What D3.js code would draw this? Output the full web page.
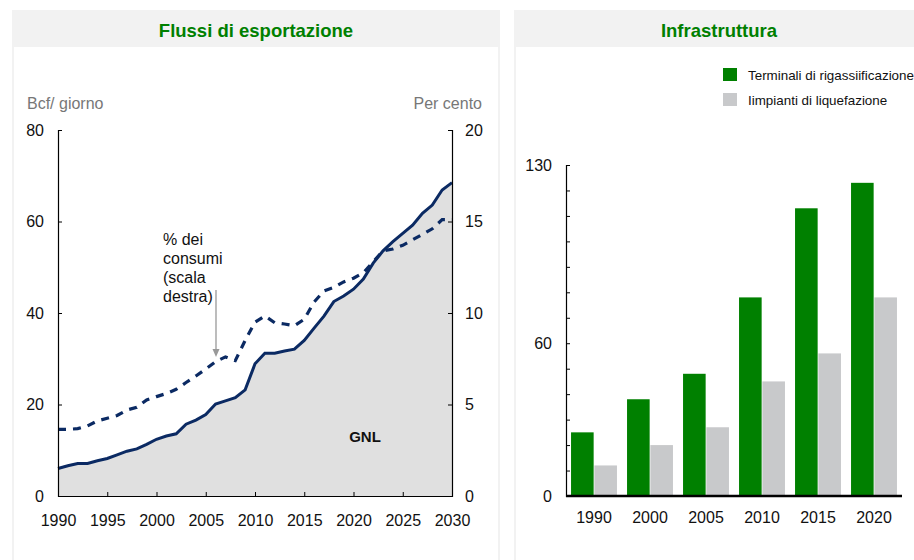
<!DOCTYPE html>
<html><head><meta charset="utf-8">
<script src="https://cdn.jsdelivr.net/npm/d3@7"></script>
<style>
html,body{margin:0;padding:0;background:#fff;}
svg{display:block;font-family:"Liberation Sans",Arial,Helvetica,sans-serif;}
</style></head>
<body>
<svg id="chart" width="914" height="560"></svg>
<script>
// ---- Data ----
const years = d3.range(1990, 2031);
const lngExports = [6.0,6.6,7.1,7.1,7.7,8.2,9.0,9.8,10.3,11.3,12.4,13.1,13.6,15.7,16.6,17.8,20.1,20.8,21.5,23.2,28.9,31.2,31.2,31.7,32.1,34.0,36.7,39.3,42.5,43.7,45.2,47.4,50.9,53.6,55.6,57.4,59.2,61.8,63.6,66.9,68.5];
const shareConsumption = [3.64,3.64,3.68,3.83,4.1,4.25,4.4,4.7,4.85,5.25,5.43,5.6,5.83,6.2,6.56,6.94,7.34,7.6,7.4,8.5,9.5,9.84,9.47,9.4,9.3,9.66,10.6,11.2,11.4,11.7,11.9,12.2,12.8,13.4,13.5,13.7,14.0,14.3,14.6,15.1,15.1];
const leftTicks = [0,20,40,60,80];
const rightTicks = [0,5,10,15,20];
const xTicks = [1990,1995,2000,2005,2010,2015,2020,2025,2030];

const barCategories = ["1990","2000","2005","2010","2015","2020"];
const regasTerminals = [25,38,48,78,113,123];
const liquefactionPlants = [12,20,27,45,56,78];
const barTickValues = d3.range(0, 131, 10);
const barTickLabels = [0,60,130];
const seriesNames = ["Terminali di rigassiificazione","Iimpianti di liquefazione"];

const navy = "#0b2a63";
const green = "#008000";
const lightGray = "#c8c9cb";

const svg = d3.select("#chart");

// ---- Panels ----
function panel(x, w, title) {
  svg.append("rect").attr("x", x).attr("y", 10).attr("width", w).attr("height", 560).attr("fill", "#f2f2f2");
  svg.append("rect").attr("x", x + 2).attr("y", 47).attr("width", w - 4).attr("height", 520).attr("fill", "#fff");
  svg.append("text").attr("x", x + w / 2).attr("y", 37).attr("text-anchor", "middle")
    .attr("font-size", 18.5).attr("font-weight", "bold").attr("fill", green).text(title);
}
panel(12, 488, "Flussi di esportazione");
panel(514, 410, "Infrastruttura");

// ---- Left chart ----
const x = d3.scaleLinear().domain([1990, 2030]).range([58, 452]);
const yL = d3.scaleLinear().domain([0, 80]).range([496, 130]);
const yR = d3.scaleLinear().domain([0, 20]).range([496, 130]);

const g = svg.append("g");
const exportData = years.map((yr, i) => ({ yr, v: lngExports[i] }));
const shareData = years.map((yr, i) => ({ yr, v: shareConsumption[i] }));

g.append("path").datum(exportData)
  .attr("fill", "#e0e0e0")
  .attr("d", d3.area().x(d => x(d.yr)).y0(yL(0)).y1(d => yL(d.v)));

g.append("path").datum(exportData)
  .attr("fill", "none").attr("stroke", navy).attr("stroke-width", 3)
  .attr("d", d3.line().x(d => x(d.yr)).y(d => yL(d.v)));

g.append("path").datum(shareData)
  .attr("fill", "none").attr("stroke", navy).attr("stroke-width", 3.2)
  .attr("stroke-dasharray", "8,7")
  .attr("d", d3.line().x(d => x(d.yr)).y(d => yR(d.v)));

function styleAxis(sel, size) {
  sel.selectAll("path.domain").attr("stroke", "#000").attr("stroke-width", 1.2);
  sel.selectAll(".tick line").attr("stroke", "#000");
  sel.selectAll("text").attr("font-size", size).attr("fill", "#111")
    .attr("font-family", '"Liberation Sans",Arial,sans-serif');
}

const axL = g.append("g").attr("transform", "translate(58,0)")
  .call(d3.axisLeft(yL).tickValues(leftTicks).tickSize(-4).tickSizeOuter(-4).tickPadding(14));
styleAxis(axL, 16);
const axR = g.append("g").attr("transform", "translate(452,0)")
  .call(d3.axisRight(yR).tickValues(rightTicks).tickSize(-4).tickSizeOuter(-4).tickPadding(13));
styleAxis(axR, 16);
const axB = g.append("g").attr("transform", "translate(0,496)")
  .call(d3.axisBottom(x).tickValues(xTicks).tickFormat(d3.format("d")).tickSize(-4).tickSizeOuter(0).tickPadding(19));
styleAxis(axB, 16);

g.append("text").attr("x", 27).attr("y", 109).attr("font-size", 16).attr("fill", "#777").text("Bcf/ giorno");
g.append("text").attr("x", 482).attr("y", 109).attr("text-anchor", "end").attr("font-size", 16).attr("fill", "#777").text("Per cento");

const ann = g.append("text").attr("x", 163).attr("y", 245).attr("font-size", 16).attr("fill", "#111");
["% dei", "consumi", "(scala", "destra)"].forEach((t, i) => {
  ann.append("tspan").attr("x", 163).attr("dy", i === 0 ? 0 : 19).text(t);
});
g.append("line").attr("x1", 216).attr("x2", 216).attr("y1", 290).attr("y2", 350)
  .attr("stroke", "#999").attr("stroke-width", 1.3);
g.append("path").attr("d", "M212.5,349 L219.5,349 L216,357 Z").attr("fill", "#999");

g.append("text").attr("x", 365).attr("y", 442).attr("text-anchor", "middle")
  .attr("font-size", 15).attr("font-weight", "bold").attr("fill", "#111").text("GNL");

// ---- Right chart ----
const x0 = d3.scaleBand().domain(barCategories).range([566, 902]).paddingInner(0.18).paddingOuter(0.09);
const x1 = d3.scaleBand().domain([0, 1]).range([0, x0.bandwidth()]).paddingInner(0.03);
const yB = d3.scaleLinear().domain([0, 130]).range([496, 165]);

const gb = svg.append("g");
const bars = barCategories.map((c, i) => [
  { c, s: 0, v: regasTerminals[i] },
  { c, s: 1, v: liquefactionPlants[i] }
]).flat();
gb.selectAll("rect.bar").data(bars).enter().append("rect")
  .attr("class", "bar")
  .attr("x", d => x0(d.c) + x1(d.s))
  .attr("width", x1.bandwidth())
  .attr("y", d => yB(d.v))
  .attr("height", d => yB(0) - yB(d.v))
  .attr("fill", d => d.s === 0 ? green : lightGray);

const axBL = gb.append("g").attr("transform", "translate(566,0)")
  .call(d3.axisLeft(yB).tickValues(barTickValues)
    .tickFormat(d => barTickLabels.includes(d) ? d : "")
    .tickSize(-4).tickSizeOuter(-4).tickPadding(14));
styleAxis(axBL, 16);
axBL.select("path.domain").attr("stroke-width", 1.2);

const axBB = gb.append("g").attr("transform", "translate(0,496)")
  .call(d3.axisBottom(x0).tickSize(0).tickPadding(16));
styleAxis(axBB, 16);
axBB.select("path.domain").remove();
gb.append("line").attr("x1", 566).attr("x2", 902).attr("y1", 496).attr("y2", 496)
  .attr("stroke", "#000").attr("stroke-width", 2.5);

const leg = gb.append("g");
seriesNames.forEach((n, i) => {
  leg.append("rect").attr("x", 723).attr("y", 68 + i * 25).attr("width", 14).attr("height", 13)
    .attr("fill", i === 0 ? green : lightGray);
  leg.append("text").attr("x", 748).attr("y", 79.5 + i * 25).attr("font-size", 13.4).attr("fill", "#111").text(n);
});
</script>
</body></html>
